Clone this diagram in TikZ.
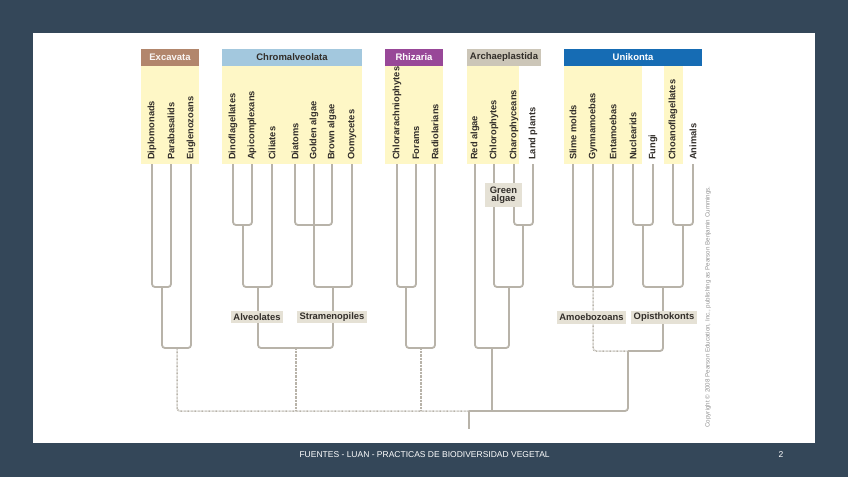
\documentclass[tikz,border=0pt]{standalone}
\usepackage{fontspec}
\setmainfont{Liberation Sans}
\definecolor{slate}{RGB}{52,71,89}
\definecolor{treegray}{RGB}{184,179,169}
\definecolor{yel}{RGB}{254,247,198}
\definecolor{tagfill}{RGB}{229,225,213}
\definecolor{labtext}{RGB}{50,46,42}
\definecolor{excol}{RGB}{178,134,108}
\definecolor{chcol}{RGB}{163,200,222}
\definecolor{rhcol}{RGB}{152,72,152}
\definecolor{arcol}{RGB}{204,198,184}
\definecolor{uncol}{RGB}{22,108,180}
\begin{document}
\begin{tikzpicture}[x=1pt,y=-1pt,
  br/.style={draw=treegray,line width=1.8pt,rounded corners=3pt},
  brd/.style={draw=treegray,line width=1.5pt,rounded corners=3pt,dash pattern=on 0.7pt off 0.7pt},
  leaf/.style={rotate=90,anchor=west,inner xsep=4pt,inner ysep=0pt,text=labtext,font=\fontsize{9.3}{10}\selectfont\bfseries},
  hdr/.style={minimum height=17pt,inner sep=0pt,font=\fontsize{9.5}{10}\selectfont\bfseries},
  tag/.style={fill=tagfill,inner xsep=2.5pt,inner ysep=0pt,minimum height=12.5pt,text=labtext,font=\fontsize{9.4}{10}\selectfont\bfseries}]
\useasboundingbox (0,0) rectangle (848,477);
\fill[slate] (0,0) rectangle (848,477);
\fill[white] (33,33) rectangle (815,443);

\node[hdr,fill=excol,text=white!92!excol,minimum width=58pt] (excavata) at (170,57.5) {Excavata};
\node[hdr,fill=chcol,text=labtext,minimum width=140pt] (chromalv) at (292,57.5) {Chromalveolata};
\node[hdr,fill=rhcol,text=white,minimum width=58pt] (rhizaria) at (414,57.5) {Rhizaria};
\node[hdr,fill=arcol,text=labtext,minimum width=74pt] (archaep) at (504,57.5) {Archaeplastida};
\node[hdr,fill=uncol,text=white,minimum width=138pt] (unikonta) at (633,57.5) {Unikonta};

\fill[yel] (141,66) rectangle (199,164);
\fill[yel] (222,66) rectangle (362,164);
\fill[yel] (385,66) rectangle (443,164);
\fill[yel] (467,66) rectangle (519,164);
\fill[yel] (564,66) rectangle (642,164);
\fill[yel] (664,66) rectangle (683,164);

\node[leaf] (dipl) at (152,164) {Diplomonads};
\node[leaf] (para) at (171,164) {Parabasalids};
\node[leaf] (eugl) at (191,164) {Euglenozoans};
\node[leaf] (dino) at (233,164) {Dinoflagellates};
\node[leaf] (apic) at (252,164) {Apicomplexans};
\node[leaf] (cili) at (272,164) {Ciliates};
\node[leaf] (diat) at (295,164) {Diatoms};
\node[leaf] (gold) at (314,164) {Golden algae};
\node[leaf] (brow) at (332,164) {Brown algae};
\node[leaf] (oomy) at (352,164) {Oomycetes};
\node[leaf] (chlo) at (397,164) {Chlorarachniophytes};
\node[leaf] (fora) at (416,164) {Forams};
\node[leaf] (radi) at (435,164) {Radiolarians};
\node[leaf] (reda) at (475,164) {Red algae};
\node[leaf] (chlp) at (494,164) {Chlorophytes};
\node[leaf] (chph) at (514,164) {Charophyceans};
\node[leaf] (land) at (533,164) {Land plants};
\node[leaf] (slim) at (573,164) {Slime molds};
\node[leaf] (gymn) at (593,164) {Gymnamoebas};
\node[leaf] (enta) at (613,164) {Entamoebas};
\node[leaf] (nucl) at (633,164) {Nuclearids};
\node[leaf] (fung) at (653,164) {Fungi};
\node[leaf] (chfl) at (673,164) {Choanoflagellates};
\node[leaf] (anim) at (693,164) {Animals};

\coordinate (exc1) at (162,287);
\coordinate (exc) at (177,348);
\coordinate (alv1) at (243,225);
\coordinate (alv) at (258,287);
\coordinate (str1) at (314,225);
\coordinate (str) at (333,287);
\coordinate (chr) at (296,348);
\coordinate (rhz1) at (406,287);
\coordinate (rhz) at (421,348);
\coordinate (arc1) at (523,225);
\coordinate (arc2) at (509,287);
\coordinate (arc) at (492,348);
\coordinate (amo) at (593,287);
\coordinate (opi1) at (643,225);
\coordinate (opi3) at (683,225);
\coordinate (opi) at (663,287);
\coordinate (uni) at (628,351);
\coordinate (root) at (469,411);
\coordinate (base) at (469,429);

\draw[br] (dipl.west) |- (exc1) -| (para.west);
\draw[br] (exc1) |- (exc) -| (eugl.west);
\draw[br] (dino.west) |- (alv1) -| (apic.west);
\draw[br] (alv1) |- (alv) -| (cili.west);
\draw[br] (diat.west) |- (str1) -| (brow.west);
\draw[br] (gold.west) |- (str) -| (oomy.west);
\draw[br] (alv) |- (chr) -| (str);
\draw[br] (chlo.west) |- (rhz1) -| (fora.west);
\draw[br] (rhz1) |- (rhz) -| (radi.west);
\draw[br] (chph.west) |- (arc1) -| (land.west);
\draw[br] (chlp.west) |- (arc2) -| (arc1);
\draw[br] (reda.west) |- (arc) -| (arc2);
\draw[br] (slim.west) |- (amo) -| (enta.west);
\draw[br] (gymn.west) -- (amo);
\draw[br] (nucl.west) |- (opi1) -| (fung.west);
\draw[br] (chfl.west) |- (opi3) -| (anim.west);
\draw[br] (opi1) |- (opi) -| (opi3);
\draw[brd] (amo) |- (uni);
\draw[br] (uni) -| (opi);
\draw[brd] (exc) |- (root);
\draw[brd] (chr) -- (chr |- root);
\draw[brd] (rhz) -- (rhz |- root);
\draw[br] (arc) -- (arc |- root);
\draw[br] (root) -| (uni);
\draw[br] (root) -- (base);

\node[tag] (alveol) at (257,317) {Alveolates};
\node[tag] (strameno) at (332,317) {Stramenopiles};
\node[tag] (amoebo) at (591.5,317.5) {Amoebozoans};
\node[tag] (opistho) at (664,317.5) {Opisthokonts};
\node[tag,align=center,minimum width=37pt,minimum height=24pt] (greenalg) at (503.5,195) {Green\\[-2pt]algae};

\node[rotate=90,text=gray!85,font=\fontsize{6.2}{7}\selectfont] (copyr) at (708,307) {Copyright © 2008 Pearson Education, Inc., publishing as Pearson Benjamin Cummings.};
\node[anchor=west,text=white,font=\fontsize{8.5}{9}\selectfont] (footer) at (296,455) {FUENTES - LUAN - PRACTICAS DE BIODIVERSIDAD VEGETAL};
\node[text=white,font=\fontsize{8.5}{9}\selectfont] (pagenum) at (781,455) {2};
\end{tikzpicture}
\end{document}
